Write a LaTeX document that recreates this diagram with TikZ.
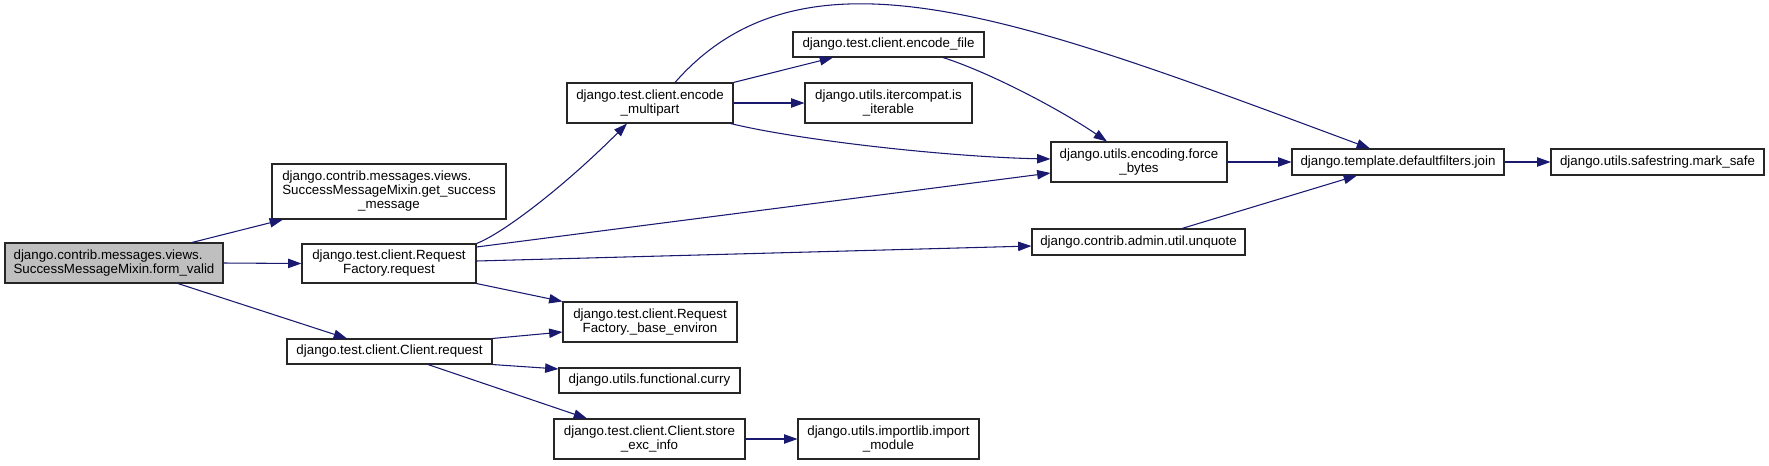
\documentclass[tikz,border=0pt]{standalone}
\usepackage{fontspec}
\setmainfont{Liberation Sans}
\usetikzlibrary{arrows.meta,calc}
\definecolor{edgeblue}{RGB}{25,25,112}
\tikzset{
  box/.style={draw=black!85, fill=white, line width=0.8pt, inner sep=0pt,
    font=\fontsize{10}{10.5}\selectfont, align=center, text=black},
  sz/.style 2 args={minimum width=#1*0.75pt, minimum height=#2*0.75pt},
  edge/.style={draw=edgeblue, line width=0.8pt, -{Triangle[length=10pt,width=7pt]}}
}
\begin{document}
\begin{tikzpicture}[x=0.75pt,y=-0.75pt]
\useasboundingbox (0,0) rectangle (1769,465);
% nodes
\node[box, sz={218}{40}, fill=black!25, align=left] (fv) at (114,263) {django.contrib.messages.views.\\SuccessMessageMixin.form\_valid};
\node[box, sz={234}{55}] (gsm) at (389,191.5) {\rlap{django.contrib.messages.views.}\phantom{SuccessMessageMixin.get\_success}\\SuccessMessageMixin.get\_success\\\_message};
\node[box, sz={174}{39}] (rfr) at (389,263.5) {django.test.client.Request\\Factory.request};
\node[box, sz={205}{25}] (cr) at (389.5,351.5) {django.test.client.Client.request};
\node[box, sz={166}{40}] (em) at (650,103) {django.test.client.encode\\\_multipart};
\node[box, sz={174}{40}] (be) at (650,322) {django.test.client.Request\\Factory.\_base\_environ};
\node[box, sz={181}{25}] (cu) at (649.5,380.5) {django.utils.functional.curry};
\node[box, sz={191}{40}] (se) at (649.5,439) {django.test.client.Client.store\\\_exc\_info};
\node[box, sz={191}{25}] (ef) at (888.5,44.5) {django.test.client.encode\_file};
\node[box, sz={167}{40}] (ii) at (888.5,103) {django.utils.itercompat.is\\\_iterable};
\node[box, sz={181}{40}] (im) at (888.5,439) {django.utils.importlib.import\\\_module};
\node[box, sz={176}{40}] (fb) at (1139,162) {django.utils.encoding.force\\\_bytes};
\node[box, sz={213}{26}] (uq) at (1138.5,242) {django.contrib.admin.util.unquote};
\node[box, sz={212}{26}] (jn) at (1398,162) {django.template.defaultfilters.join};
\node[box, sz={213}{26}] (ms) at (1657.5,162) {django.utils.safestring.mark\_safe};
% edges
\draw[edge] ($(fv.north)+(78,0)$) -- ($(gsm.south)+(-106,0)$);
\draw[edge] (fv.east) -- (rfr.west);
\draw[edge] ($(fv.south)+(64,0)$) -- ($(cr.north)+(-42.5,0)$);
\draw[edge] (rfr.north east) .. controls +(24,-9) and +(-67,67) .. ($(em.south)+(-23,0)$);
\draw[edge] ($(rfr.east)+(0,-16.5)$) -- ($(fb.west)+(0,11)$);
\draw[edge] ($(rfr.east)+(0,-2.5)$) -- ($(uq.west)+(0,4)$);
\draw[edge] (rfr.south east) -- (be.north west);
\draw[edge] (cr.north east) -- ($(be.west)+(0,10)$);
\draw[edge] (cr.south east) -- ($(cu.west)+(0,-11.5)$);
\draw[edge] ($(cr.south)+(38.5,0)$) -- ($(se.north)+(-62.5,0)$);
\draw[edge] (se.east) -- (im.west);
\draw[edge] (em.north east) -- ($(ef.south)+(-55.5,0)$);
\draw[edge] (em.east) -- (ii.west);
\draw[edge] ($(em.south east)+(-3,0)$) .. controls +(70,17) and +(-101,-2) .. ($(fb.west)+(0,-3)$);
\draw[edge] ($(em.north)+(25,0)$) .. controls +(130,-148) and +(-350,-130) .. ($(jn.north)+(-28,0)$);
\draw[edge] ($(ef.south)+(54.5,0)$) .. controls +(47,15) and +(-47,-32) .. ($(fb.north)+(-32,0)$);
\draw[edge] (fb.east) -- (jn.west);
\draw[edge] ($(uq.north)+(43.5,0)$) -- ($(jn.south)+(-41,0)$);
\draw[edge] (jn.east) -- (ms.west);
\end{tikzpicture}
\end{document}
